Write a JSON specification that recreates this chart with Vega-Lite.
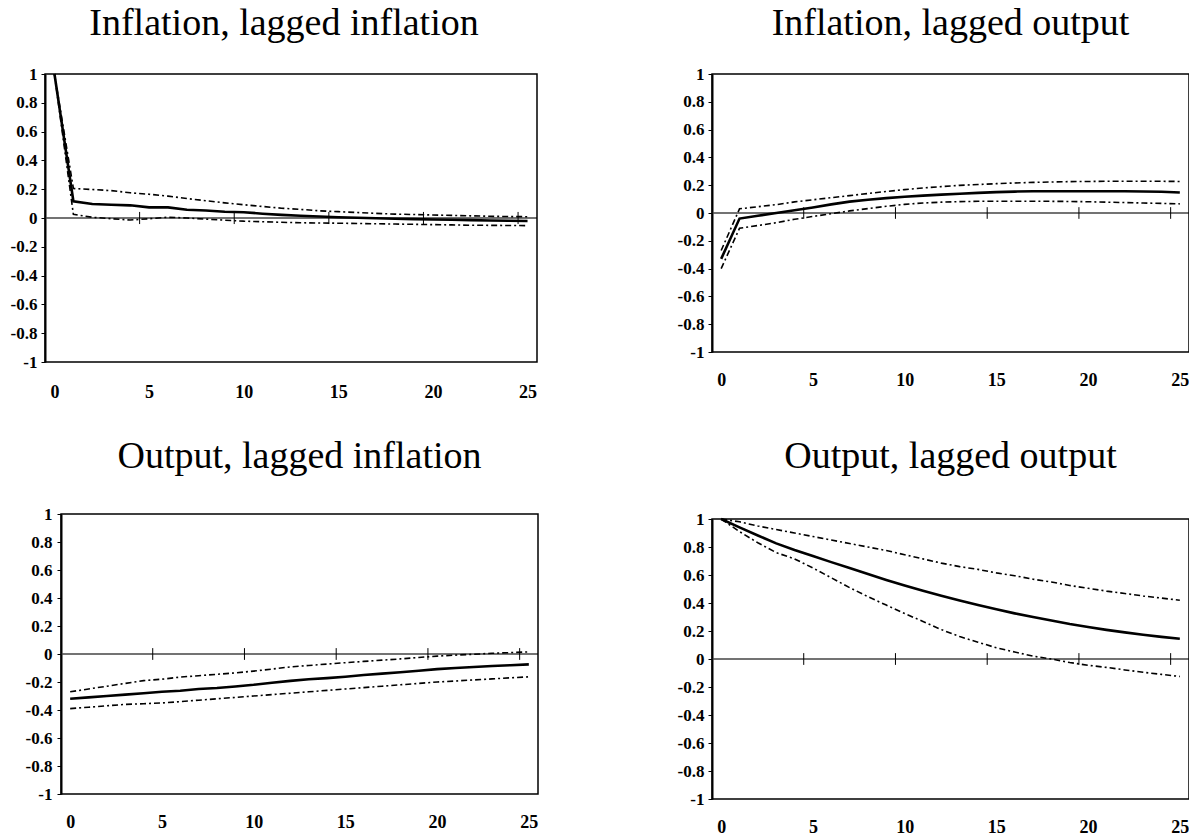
{
  "$schema": "https://vega.github.io/schema/vega-lite/v6.json",
  "background": "white",
  "padding": {"left": 0, "top": 5, "right": 0, "bottom": 0},
  "config": {
    "view": {"stroke": null},
    "axis": {"labelFont": "Liberation Serif", "labelFontWeight": "bold", "labelColor": "#000", "labelOverlap": false, "grid": false},
    "axisX": {"labelFontSize": 18},
    "axisY": {"labelFontSize": 17},
    "title": {"font": "Liberation Serif", "fontSize": 38, "fontWeight": "normal", "color": "#000", "baseline": "bottom", "anchor": "middle", "frame": "group"}
  },
  "datasets": {
    "irf": [
      {"p":1,"t":0,"m":1,"u":1,"l":1},
      {"p":1,"t":1,"m":0.116,"u":0.205,"l":0.025},
      {"p":1,"t":2,"m":0.097,"u":0.198,"l":0.005},
      {"p":1,"t":3,"m":0.092,"u":0.19,"l":-0.005},
      {"p":1,"t":4,"m":0.088,"u":0.175,"l":-0.014},
      {"p":1,"t":5,"m":0.074,"u":0.165,"l":-0.005},
      {"p":1,"t":6,"m":0.074,"u":0.152,"l":0.005},
      {"p":1,"t":7,"m":0.057,"u":0.135,"l":0.0},
      {"p":1,"t":8,"m":0.052,"u":0.12,"l":-0.008},
      {"p":1,"t":9,"m":0.043,"u":0.105,"l":-0.015},
      {"p":1,"t":10,"m":0.04,"u":0.092,"l":-0.022},
      {"p":1,"t":11,"m":0.03,"u":0.08,"l":-0.026},
      {"p":1,"t":12,"m":0.022,"u":0.068,"l":-0.03},
      {"p":1,"t":13,"m":0.016,"u":0.06,"l":-0.033},
      {"p":1,"t":14,"m":0.01,"u":0.05,"l":-0.035},
      {"p":1,"t":15,"m":0.005,"u":0.044,"l":-0.036},
      {"p":1,"t":16,"m":0.002,"u":0.038,"l":-0.038},
      {"p":1,"t":17,"m":-0.002,"u":0.032,"l":-0.04},
      {"p":1,"t":18,"m":-0.005,"u":0.027,"l":-0.042},
      {"p":1,"t":19,"m":-0.008,"u":0.024,"l":-0.044},
      {"p":1,"t":20,"m":-0.01,"u":0.021,"l":-0.046},
      {"p":1,"t":21,"m":-0.012,"u":0.018,"l":-0.048},
      {"p":1,"t":22,"m":-0.015,"u":0.015,"l":-0.05},
      {"p":1,"t":23,"m":-0.017,"u":0.012,"l":-0.051},
      {"p":1,"t":24,"m":-0.019,"u":0.01,"l":-0.052},
      {"p":1,"t":25,"m":-0.021,"u":0.009,"l":-0.053},

      {"p":2,"t":0,"m":-0.33,"u":-0.27,"l":-0.4},
      {"p":2,"t":1,"m":-0.04,"u":0.03,"l":-0.11},
      {"p":2,"t":2,"m":-0.02,"u":0.045,"l":-0.09},
      {"p":2,"t":3,"m":0.0,"u":0.06,"l":-0.07},
      {"p":2,"t":4,"m":0.02,"u":0.08,"l":-0.045},
      {"p":2,"t":5,"m":0.04,"u":0.095,"l":-0.025},
      {"p":2,"t":6,"m":0.062,"u":0.11,"l":-0.005},
      {"p":2,"t":7,"m":0.082,"u":0.125,"l":0.015},
      {"p":2,"t":8,"m":0.095,"u":0.14,"l":0.032},
      {"p":2,"t":9,"m":0.107,"u":0.155,"l":0.048},
      {"p":2,"t":10,"m":0.117,"u":0.168,"l":0.062},
      {"p":2,"t":11,"m":0.125,"u":0.18,"l":0.072},
      {"p":2,"t":12,"m":0.132,"u":0.19,"l":0.078},
      {"p":2,"t":13,"m":0.139,"u":0.199,"l":0.082},
      {"p":2,"t":14,"m":0.145,"u":0.205,"l":0.084},
      {"p":2,"t":15,"m":0.15,"u":0.211,"l":0.085},
      {"p":2,"t":16,"m":0.154,"u":0.216,"l":0.085},
      {"p":2,"t":17,"m":0.156,"u":0.22,"l":0.085},
      {"p":2,"t":18,"m":0.157,"u":0.223,"l":0.084},
      {"p":2,"t":19,"m":0.157,"u":0.226,"l":0.083},
      {"p":2,"t":20,"m":0.157,"u":0.227,"l":0.081},
      {"p":2,"t":21,"m":0.157,"u":0.228,"l":0.078},
      {"p":2,"t":22,"m":0.156,"u":0.228,"l":0.075},
      {"p":2,"t":23,"m":0.155,"u":0.228,"l":0.072},
      {"p":2,"t":24,"m":0.153,"u":0.228,"l":0.069},
      {"p":2,"t":25,"m":0.147,"u":0.227,"l":0.066},

      {"p":3,"t":0,"m":-0.32,"u":-0.27,"l":-0.39},
      {"p":3,"t":1,"m":-0.31,"u":-0.25,"l":-0.38},
      {"p":3,"t":2,"m":-0.3,"u":-0.23,"l":-0.37},
      {"p":3,"t":3,"m":-0.29,"u":-0.21,"l":-0.36},
      {"p":3,"t":4,"m":-0.28,"u":-0.19,"l":-0.355},
      {"p":3,"t":5,"m":-0.27,"u":-0.18,"l":-0.35},
      {"p":3,"t":6,"m":-0.262,"u":-0.165,"l":-0.34},
      {"p":3,"t":7,"m":-0.25,"u":-0.155,"l":-0.33},
      {"p":3,"t":8,"m":-0.243,"u":-0.145,"l":-0.32},
      {"p":3,"t":9,"m":-0.232,"u":-0.135,"l":-0.31},
      {"p":3,"t":10,"m":-0.22,"u":-0.122,"l":-0.3},
      {"p":3,"t":11,"m":-0.205,"u":-0.108,"l":-0.29},
      {"p":3,"t":12,"m":-0.192,"u":-0.092,"l":-0.28},
      {"p":3,"t":13,"m":-0.18,"u":-0.082,"l":-0.27},
      {"p":3,"t":14,"m":-0.172,"u":-0.072,"l":-0.26},
      {"p":3,"t":15,"m":-0.162,"u":-0.062,"l":-0.25},
      {"p":3,"t":16,"m":-0.15,"u":-0.053,"l":-0.24},
      {"p":3,"t":17,"m":-0.14,"u":-0.044,"l":-0.23},
      {"p":3,"t":18,"m":-0.13,"u":-0.035,"l":-0.22},
      {"p":3,"t":19,"m":-0.12,"u":-0.025,"l":-0.21},
      {"p":3,"t":20,"m":-0.108,"u":-0.015,"l":-0.2},
      {"p":3,"t":21,"m":-0.1,"u":-0.008,"l":-0.193},
      {"p":3,"t":22,"m":-0.093,"u":-0.002,"l":-0.185},
      {"p":3,"t":23,"m":-0.086,"u":0.005,"l":-0.178},
      {"p":3,"t":24,"m":-0.08,"u":0.01,"l":-0.17},
      {"p":3,"t":25,"m":-0.074,"u":0.015,"l":-0.163},

      {"p":4,"t":0,"m":1,"u":1,"l":1},
      {"p":4,"t":1,"m":0.94,"u":0.98,"l":0.91},
      {"p":4,"t":2,"m":0.882,"u":0.95,"l":0.83},
      {"p":4,"t":3,"m":0.826,"u":0.925,"l":0.76},
      {"p":4,"t":4,"m":0.778,"u":0.9,"l":0.715},
      {"p":4,"t":5,"m":0.735,"u":0.875,"l":0.65},
      {"p":4,"t":6,"m":0.692,"u":0.85,"l":0.58},
      {"p":4,"t":7,"m":0.65,"u":0.825,"l":0.51},
      {"p":4,"t":8,"m":0.607,"u":0.8,"l":0.445},
      {"p":4,"t":9,"m":0.565,"u":0.775,"l":0.385},
      {"p":4,"t":10,"m":0.525,"u":0.745,"l":0.325},
      {"p":4,"t":11,"m":0.488,"u":0.715,"l":0.268},
      {"p":4,"t":12,"m":0.452,"u":0.685,"l":0.21},
      {"p":4,"t":13,"m":0.418,"u":0.66,"l":0.16},
      {"p":4,"t":14,"m":0.385,"u":0.64,"l":0.12},
      {"p":4,"t":15,"m":0.355,"u":0.615,"l":0.08},
      {"p":4,"t":16,"m":0.326,"u":0.595,"l":0.05},
      {"p":4,"t":17,"m":0.3,"u":0.57,"l":0.02},
      {"p":4,"t":18,"m":0.275,"u":0.55,"l":0.0},
      {"p":4,"t":19,"m":0.25,"u":0.525,"l":-0.025},
      {"p":4,"t":20,"m":0.228,"u":0.505,"l":-0.045},
      {"p":4,"t":21,"m":0.208,"u":0.485,"l":-0.06},
      {"p":4,"t":22,"m":0.19,"u":0.468,"l":-0.078},
      {"p":4,"t":23,"m":0.173,"u":0.45,"l":-0.095},
      {"p":4,"t":24,"m":0.158,"u":0.435,"l":-0.11},
      {"p":4,"t":25,"m":0.145,"u":0.42,"l":-0.125}
    ],
    "ticks": [
      {"t":4.5,"lo":-0.042,"hi":0.042},
      {"t":9.5,"lo":-0.042,"hi":0.042},
      {"t":14.5,"lo":-0.042,"hi":0.042},
      {"t":19.5,"lo":-0.042,"hi":0.042},
      {"t":24.5,"lo":-0.042,"hi":0.042}
    ],
    "one": [{"z":0,"x0":-0.5,"x1":25.5,"y0":-1,"y1":1}]
  },
  "columns": 2,
  "align": "each",
  "spacing": {"row": 37, "column": 123},
  "concat": [
    {
      "title": {"text": "Inflation, lagged inflation", "offset": 22, "dx": -7, "frame": "group"},
      "width": 492, "height": 288,
      "layer": [
        {"data": {"name": "one"}, "mark": {"type": "rule", "color": "#444", "strokeWidth": 1.5},
         "encoding": {"x": {"field": "x0", "type": "quantitative", "scale": {"domain": [-0.5, 25.5], "nice": false, "zero": false}, "axis": {"values": [0,5,10,15,20,25], "labelExpr": "'' + datum.value", "title": null, "grid": false, "ticks": false, "tickSize": 0, "domain": false, "labelFont": "Liberation Serif", "labelFontWeight": "bold", "labelFontSize": 18, "labelColor": "#000", "labelPadding": 21, "labelFlush": false, "labelOverlap": false}}, "x2": {"field": "x1"},
                      "y": {"field": "z", "type": "quantitative", "scale": {"domain": [-1, 1], "nice": false}, "axis": {"values": [-1,-0.8,-0.6,-0.4,-0.2,0,0.2,0.4,0.6,0.8,1], "labelExpr": "'' + datum.value", "title": null, "grid": false, "tickSize": 4, "tickColor": "#000", "tickWidth": 1, "domainColor": "#000", "domainWidth": 2, "labelFont": "Liberation Serif", "labelFontWeight": "bold", "labelFontSize": 17, "labelColor": "#000", "labelPadding": 4, "labelOverlap": false, "minExtent": 45, "maxExtent": 45}}}},
        {"data": {"name": "one"}, "mark": {"type": "rect", "filled": false, "color": "#000", "strokeWidth": 1.5},
         "encoding": {"x": {"field": "x0", "type": "quantitative", "scale": {"domain": [-0.5, 25.5], "nice": false, "zero": false}, "axis": {"values": [0,5,10,15,20,25], "labelExpr": "'' + datum.value", "title": null, "grid": false, "ticks": false, "tickSize": 0, "domain": false, "labelFont": "Liberation Serif", "labelFontWeight": "bold", "labelFontSize": 18, "labelColor": "#000", "labelPadding": 21, "labelFlush": false, "labelOverlap": false}}, "x2": {"field": "x1"},
                      "y": {"field": "y0", "type": "quantitative", "scale": {"domain": [-1, 1], "nice": false}, "axis": {"values": [-1,-0.8,-0.6,-0.4,-0.2,0,0.2,0.4,0.6,0.8,1], "labelExpr": "'' + datum.value", "title": null, "grid": false, "tickSize": 4, "tickColor": "#000", "tickWidth": 1, "domainColor": "#000", "domainWidth": 2, "labelFont": "Liberation Serif", "labelFontWeight": "bold", "labelFontSize": 17, "labelColor": "#000", "labelPadding": 4, "labelOverlap": false, "minExtent": 45, "maxExtent": 45}}, "y2": {"field": "y1"}}},
        {"data": {"name": "ticks"}, "mark": {"type": "rule", "color": "#000", "strokeWidth": 1},
         "encoding": {"x": {"field": "t", "type": "quantitative", "scale": {"domain": [-0.5, 25.5], "nice": false, "zero": false}, "axis": {"values": [0,5,10,15,20,25], "labelExpr": "'' + datum.value", "title": null, "grid": false, "ticks": false, "tickSize": 0, "domain": false, "labelFont": "Liberation Serif", "labelFontWeight": "bold", "labelFontSize": 18, "labelColor": "#000", "labelPadding": 21, "labelFlush": false, "labelOverlap": false}},
                      "y": {"field": "lo", "type": "quantitative", "scale": {"domain": [-1, 1], "nice": false}, "axis": {"values": [-1,-0.8,-0.6,-0.4,-0.2,0,0.2,0.4,0.6,0.8,1], "labelExpr": "'' + datum.value", "title": null, "grid": false, "tickSize": 4, "tickColor": "#000", "tickWidth": 1, "domainColor": "#000", "domainWidth": 2, "labelFont": "Liberation Serif", "labelFontWeight": "bold", "labelFontSize": 17, "labelColor": "#000", "labelPadding": 4, "labelOverlap": false, "minExtent": 45, "maxExtent": 45}}, "y2": {"field": "hi"}}},
        {"data": {"name": "irf"}, "transform": [{"filter": "datum.p == 1"}], "mark": {"type": "line", "color": "#000", "strokeWidth": 1.6, "strokeDash": [6, 3, 2, 3]},
         "encoding": {"x": {"field": "t", "type": "quantitative", "scale": {"domain": [-0.5, 25.5], "nice": false, "zero": false}, "axis": {"values": [0,5,10,15,20,25], "labelExpr": "'' + datum.value", "title": null, "grid": false, "ticks": false, "tickSize": 0, "domain": false, "labelFont": "Liberation Serif", "labelFontWeight": "bold", "labelFontSize": 18, "labelColor": "#000", "labelPadding": 21, "labelFlush": false, "labelOverlap": false}},
                      "y": {"field": "u", "type": "quantitative", "scale": {"domain": [-1, 1], "nice": false}, "axis": {"values": [-1,-0.8,-0.6,-0.4,-0.2,0,0.2,0.4,0.6,0.8,1], "labelExpr": "'' + datum.value", "title": null, "grid": false, "tickSize": 4, "tickColor": "#000", "tickWidth": 1, "domainColor": "#000", "domainWidth": 2, "labelFont": "Liberation Serif", "labelFontWeight": "bold", "labelFontSize": 17, "labelColor": "#000", "labelPadding": 4, "labelOverlap": false, "minExtent": 45, "maxExtent": 45}}}},
        {"data": {"name": "irf"}, "transform": [{"filter": "datum.p == 1"}], "mark": {"type": "line", "color": "#000", "strokeWidth": 1.6, "strokeDash": [6, 3, 2, 3]},
         "encoding": {"x": {"field": "t", "type": "quantitative", "scale": {"domain": [-0.5, 25.5], "nice": false, "zero": false}, "axis": {"values": [0,5,10,15,20,25], "labelExpr": "'' + datum.value", "title": null, "grid": false, "ticks": false, "tickSize": 0, "domain": false, "labelFont": "Liberation Serif", "labelFontWeight": "bold", "labelFontSize": 18, "labelColor": "#000", "labelPadding": 21, "labelFlush": false, "labelOverlap": false}},
                      "y": {"field": "l", "type": "quantitative", "scale": {"domain": [-1, 1], "nice": false}, "axis": {"values": [-1,-0.8,-0.6,-0.4,-0.2,0,0.2,0.4,0.6,0.8,1], "labelExpr": "'' + datum.value", "title": null, "grid": false, "tickSize": 4, "tickColor": "#000", "tickWidth": 1, "domainColor": "#000", "domainWidth": 2, "labelFont": "Liberation Serif", "labelFontWeight": "bold", "labelFontSize": 17, "labelColor": "#000", "labelPadding": 4, "labelOverlap": false, "minExtent": 45, "maxExtent": 45}}}},
        {"data": {"name": "irf"}, "transform": [{"filter": "datum.p == 1"}], "mark": {"type": "line", "color": "#000", "strokeWidth": 2.6},
         "encoding": {"x": {"field": "t", "type": "quantitative", "scale": {"domain": [-0.5, 25.5], "nice": false, "zero": false}, "axis": {"values": [0,5,10,15,20,25], "labelExpr": "'' + datum.value", "title": null, "grid": false, "ticks": false, "tickSize": 0, "domain": false, "labelFont": "Liberation Serif", "labelFontWeight": "bold", "labelFontSize": 18, "labelColor": "#000", "labelPadding": 21, "labelFlush": false, "labelOverlap": false}},
                      "y": {"field": "m", "type": "quantitative", "scale": {"domain": [-1, 1], "nice": false}, "axis": {"values": [-1,-0.8,-0.6,-0.4,-0.2,0,0.2,0.4,0.6,0.8,1], "labelExpr": "'' + datum.value", "title": null, "grid": false, "tickSize": 4, "tickColor": "#000", "tickWidth": 1, "domainColor": "#000", "domainWidth": 2, "labelFont": "Liberation Serif", "labelFontWeight": "bold", "labelFontSize": 17, "labelColor": "#000", "labelPadding": 4, "labelOverlap": false, "minExtent": 45, "maxExtent": 45}}}}
      ]
    },
    {
      "title": {"text": "Inflation, lagged output", "offset": 22, "frame": "group"},
      "width": 477, "height": 278,
      "layer": [
        {"data": {"name": "one"}, "mark": {"type": "rule", "color": "#444", "strokeWidth": 1.5},
         "encoding": {"x": {"field": "x0", "type": "quantitative", "scale": {"domain": [-0.5, 25.5], "nice": false, "zero": false}, "axis": {"values": [0,5,10,15,20,25], "labelExpr": "'' + datum.value", "title": null, "grid": false, "ticks": false, "tickSize": 0, "domain": false, "labelFont": "Liberation Serif", "labelFontWeight": "bold", "labelFontSize": 18, "labelColor": "#000", "labelPadding": 19, "labelFlush": false, "labelOverlap": false}}, "x2": {"field": "x1"},
                      "y": {"field": "z", "type": "quantitative", "scale": {"domain": [-1, 1], "nice": false}, "axis": {"values": [-1,-0.8,-0.6,-0.4,-0.2,0,0.2,0.4,0.6,0.8,1], "labelExpr": "'' + datum.value", "title": null, "grid": false, "tickSize": 4, "tickColor": "#000", "tickWidth": 1, "domainColor": "#000", "domainWidth": 2, "labelFont": "Liberation Serif", "labelFontWeight": "bold", "labelFontSize": 17, "labelColor": "#000", "labelPadding": 4, "labelOverlap": false, "minExtent": 50, "maxExtent": 50}}}},
        {"data": {"name": "one"}, "mark": {"type": "rect", "filled": false, "color": "#000", "strokeWidth": 1.5},
         "encoding": {"x": {"field": "x0", "type": "quantitative", "scale": {"domain": [-0.5, 25.5], "nice": false, "zero": false}, "axis": {"values": [0,5,10,15,20,25], "labelExpr": "'' + datum.value", "title": null, "grid": false, "ticks": false, "tickSize": 0, "domain": false, "labelFont": "Liberation Serif", "labelFontWeight": "bold", "labelFontSize": 18, "labelColor": "#000", "labelPadding": 19, "labelFlush": false, "labelOverlap": false}}, "x2": {"field": "x1"},
                      "y": {"field": "y0", "type": "quantitative", "scale": {"domain": [-1, 1], "nice": false}, "axis": {"values": [-1,-0.8,-0.6,-0.4,-0.2,0,0.2,0.4,0.6,0.8,1], "labelExpr": "'' + datum.value", "title": null, "grid": false, "tickSize": 4, "tickColor": "#000", "tickWidth": 1, "domainColor": "#000", "domainWidth": 2, "labelFont": "Liberation Serif", "labelFontWeight": "bold", "labelFontSize": 17, "labelColor": "#000", "labelPadding": 4, "labelOverlap": false, "minExtent": 50, "maxExtent": 50}}, "y2": {"field": "y1"}}},
        {"data": {"name": "ticks"}, "mark": {"type": "rule", "color": "#000", "strokeWidth": 1},
         "encoding": {"x": {"field": "t", "type": "quantitative", "scale": {"domain": [-0.5, 25.5], "nice": false, "zero": false}, "axis": {"values": [0,5,10,15,20,25], "labelExpr": "'' + datum.value", "title": null, "grid": false, "ticks": false, "tickSize": 0, "domain": false, "labelFont": "Liberation Serif", "labelFontWeight": "bold", "labelFontSize": 18, "labelColor": "#000", "labelPadding": 19, "labelFlush": false, "labelOverlap": false}},
                      "y": {"field": "lo", "type": "quantitative", "scale": {"domain": [-1, 1], "nice": false}, "axis": {"values": [-1,-0.8,-0.6,-0.4,-0.2,0,0.2,0.4,0.6,0.8,1], "labelExpr": "'' + datum.value", "title": null, "grid": false, "tickSize": 4, "tickColor": "#000", "tickWidth": 1, "domainColor": "#000", "domainWidth": 2, "labelFont": "Liberation Serif", "labelFontWeight": "bold", "labelFontSize": 17, "labelColor": "#000", "labelPadding": 4, "labelOverlap": false, "minExtent": 50, "maxExtent": 50}}, "y2": {"field": "hi"}}},
        {"data": {"name": "irf"}, "transform": [{"filter": "datum.p == 2"}], "mark": {"type": "line", "color": "#000", "strokeWidth": 1.6, "strokeDash": [6, 3, 2, 3]},
         "encoding": {"x": {"field": "t", "type": "quantitative", "scale": {"domain": [-0.5, 25.5], "nice": false, "zero": false}, "axis": {"values": [0,5,10,15,20,25], "labelExpr": "'' + datum.value", "title": null, "grid": false, "ticks": false, "tickSize": 0, "domain": false, "labelFont": "Liberation Serif", "labelFontWeight": "bold", "labelFontSize": 18, "labelColor": "#000", "labelPadding": 19, "labelFlush": false, "labelOverlap": false}},
                      "y": {"field": "u", "type": "quantitative", "scale": {"domain": [-1, 1], "nice": false}, "axis": {"values": [-1,-0.8,-0.6,-0.4,-0.2,0,0.2,0.4,0.6,0.8,1], "labelExpr": "'' + datum.value", "title": null, "grid": false, "tickSize": 4, "tickColor": "#000", "tickWidth": 1, "domainColor": "#000", "domainWidth": 2, "labelFont": "Liberation Serif", "labelFontWeight": "bold", "labelFontSize": 17, "labelColor": "#000", "labelPadding": 4, "labelOverlap": false, "minExtent": 50, "maxExtent": 50}}}},
        {"data": {"name": "irf"}, "transform": [{"filter": "datum.p == 2"}], "mark": {"type": "line", "color": "#000", "strokeWidth": 1.6, "strokeDash": [6, 3, 2, 3]},
         "encoding": {"x": {"field": "t", "type": "quantitative", "scale": {"domain": [-0.5, 25.5], "nice": false, "zero": false}, "axis": {"values": [0,5,10,15,20,25], "labelExpr": "'' + datum.value", "title": null, "grid": false, "ticks": false, "tickSize": 0, "domain": false, "labelFont": "Liberation Serif", "labelFontWeight": "bold", "labelFontSize": 18, "labelColor": "#000", "labelPadding": 19, "labelFlush": false, "labelOverlap": false}},
                      "y": {"field": "l", "type": "quantitative", "scale": {"domain": [-1, 1], "nice": false}, "axis": {"values": [-1,-0.8,-0.6,-0.4,-0.2,0,0.2,0.4,0.6,0.8,1], "labelExpr": "'' + datum.value", "title": null, "grid": false, "tickSize": 4, "tickColor": "#000", "tickWidth": 1, "domainColor": "#000", "domainWidth": 2, "labelFont": "Liberation Serif", "labelFontWeight": "bold", "labelFontSize": 17, "labelColor": "#000", "labelPadding": 4, "labelOverlap": false, "minExtent": 50, "maxExtent": 50}}}},
        {"data": {"name": "irf"}, "transform": [{"filter": "datum.p == 2"}], "mark": {"type": "line", "color": "#000", "strokeWidth": 2.6},
         "encoding": {"x": {"field": "t", "type": "quantitative", "scale": {"domain": [-0.5, 25.5], "nice": false, "zero": false}, "axis": {"values": [0,5,10,15,20,25], "labelExpr": "'' + datum.value", "title": null, "grid": false, "ticks": false, "tickSize": 0, "domain": false, "labelFont": "Liberation Serif", "labelFontWeight": "bold", "labelFontSize": 18, "labelColor": "#000", "labelPadding": 19, "labelFlush": false, "labelOverlap": false}},
                      "y": {"field": "m", "type": "quantitative", "scale": {"domain": [-1, 1], "nice": false}, "axis": {"values": [-1,-0.8,-0.6,-0.4,-0.2,0,0.2,0.4,0.6,0.8,1], "labelExpr": "'' + datum.value", "title": null, "grid": false, "tickSize": 4, "tickColor": "#000", "tickWidth": 1, "domainColor": "#000", "domainWidth": 2, "labelFont": "Liberation Serif", "labelFontWeight": "bold", "labelFontSize": 17, "labelColor": "#000", "labelPadding": 4, "labelOverlap": false, "minExtent": 50, "maxExtent": 50}}}}
      ]
    },
    {
      "title": {"text": "Output, lagged inflation", "offset": 29, "dx": 8, "frame": "group"},
      "width": 493, "height": 280,
      "layer": [
        {"data": {"name": "one"}, "mark": {"type": "rule", "color": "#444", "strokeWidth": 1.5},
         "encoding": {"x": {"field": "x0", "type": "quantitative", "scale": {"domain": [-0.5, 25.5], "nice": false, "zero": false, "range": [16, 493]}, "axis": {"values": [0,5,10,15,20,25], "labelExpr": "'' + datum.value", "title": null, "grid": false, "ticks": false, "tickSize": 0, "domain": false, "labelFont": "Liberation Serif", "labelFontWeight": "bold", "labelFontSize": 18, "labelColor": "#000", "labelPadding": 19, "labelFlush": false, "labelOverlap": false}}, "x2": {"field": "x1"},
                      "y": {"field": "z", "type": "quantitative", "scale": {"domain": [-1, 1], "nice": false}, "axis": {"values": [-1,-0.8,-0.6,-0.4,-0.2,0,0.2,0.4,0.6,0.8,1], "labelExpr": "'' + datum.value", "title": null, "grid": false, "offset": -16, "tickSize": 4, "tickColor": "#000", "tickWidth": 1, "domainColor": "#000", "domainWidth": 2, "labelFont": "Liberation Serif", "labelFontWeight": "bold", "labelFontSize": 17, "labelColor": "#000", "labelPadding": 5, "labelOverlap": false, "minExtent": 61, "maxExtent": 61}}}},
        {"data": {"name": "one"}, "mark": {"type": "rect", "filled": false, "color": "#000", "strokeWidth": 1.5},
         "encoding": {"x": {"field": "x0", "type": "quantitative", "scale": {"domain": [-0.5, 25.5], "nice": false, "zero": false, "range": [16, 493]}, "axis": {"values": [0,5,10,15,20,25], "labelExpr": "'' + datum.value", "title": null, "grid": false, "ticks": false, "tickSize": 0, "domain": false, "labelFont": "Liberation Serif", "labelFontWeight": "bold", "labelFontSize": 18, "labelColor": "#000", "labelPadding": 19, "labelFlush": false, "labelOverlap": false}}, "x2": {"field": "x1"},
                      "y": {"field": "y0", "type": "quantitative", "scale": {"domain": [-1, 1], "nice": false}, "axis": {"values": [-1,-0.8,-0.6,-0.4,-0.2,0,0.2,0.4,0.6,0.8,1], "labelExpr": "'' + datum.value", "title": null, "grid": false, "offset": -16, "tickSize": 4, "tickColor": "#000", "tickWidth": 1, "domainColor": "#000", "domainWidth": 2, "labelFont": "Liberation Serif", "labelFontWeight": "bold", "labelFontSize": 17, "labelColor": "#000", "labelPadding": 5, "labelOverlap": false, "minExtent": 61, "maxExtent": 61}}, "y2": {"field": "y1"}}},
        {"data": {"name": "ticks"}, "mark": {"type": "rule", "color": "#000", "strokeWidth": 1},
         "encoding": {"x": {"field": "t", "type": "quantitative", "scale": {"domain": [-0.5, 25.5], "nice": false, "zero": false, "range": [16, 493]}, "axis": {"values": [0,5,10,15,20,25], "labelExpr": "'' + datum.value", "title": null, "grid": false, "ticks": false, "tickSize": 0, "domain": false, "labelFont": "Liberation Serif", "labelFontWeight": "bold", "labelFontSize": 18, "labelColor": "#000", "labelPadding": 19, "labelFlush": false, "labelOverlap": false}},
                      "y": {"field": "lo", "type": "quantitative", "scale": {"domain": [-1, 1], "nice": false}, "axis": {"values": [-1,-0.8,-0.6,-0.4,-0.2,0,0.2,0.4,0.6,0.8,1], "labelExpr": "'' + datum.value", "title": null, "grid": false, "offset": -16, "tickSize": 4, "tickColor": "#000", "tickWidth": 1, "domainColor": "#000", "domainWidth": 2, "labelFont": "Liberation Serif", "labelFontWeight": "bold", "labelFontSize": 17, "labelColor": "#000", "labelPadding": 5, "labelOverlap": false, "minExtent": 61, "maxExtent": 61}}, "y2": {"field": "hi"}}},
        {"data": {"name": "irf"}, "transform": [{"filter": "datum.p == 3"}], "mark": {"type": "line", "color": "#000", "strokeWidth": 1.6, "strokeDash": [6, 3, 2, 3]},
         "encoding": {"x": {"field": "t", "type": "quantitative", "scale": {"domain": [-0.5, 25.5], "nice": false, "zero": false, "range": [16, 493]}, "axis": {"values": [0,5,10,15,20,25], "labelExpr": "'' + datum.value", "title": null, "grid": false, "ticks": false, "tickSize": 0, "domain": false, "labelFont": "Liberation Serif", "labelFontWeight": "bold", "labelFontSize": 18, "labelColor": "#000", "labelPadding": 19, "labelFlush": false, "labelOverlap": false}},
                      "y": {"field": "u", "type": "quantitative", "scale": {"domain": [-1, 1], "nice": false}, "axis": {"values": [-1,-0.8,-0.6,-0.4,-0.2,0,0.2,0.4,0.6,0.8,1], "labelExpr": "'' + datum.value", "title": null, "grid": false, "offset": -16, "tickSize": 4, "tickColor": "#000", "tickWidth": 1, "domainColor": "#000", "domainWidth": 2, "labelFont": "Liberation Serif", "labelFontWeight": "bold", "labelFontSize": 17, "labelColor": "#000", "labelPadding": 5, "labelOverlap": false, "minExtent": 61, "maxExtent": 61}}}},
        {"data": {"name": "irf"}, "transform": [{"filter": "datum.p == 3"}], "mark": {"type": "line", "color": "#000", "strokeWidth": 1.6, "strokeDash": [6, 3, 2, 3]},
         "encoding": {"x": {"field": "t", "type": "quantitative", "scale": {"domain": [-0.5, 25.5], "nice": false, "zero": false, "range": [16, 493]}, "axis": {"values": [0,5,10,15,20,25], "labelExpr": "'' + datum.value", "title": null, "grid": false, "ticks": false, "tickSize": 0, "domain": false, "labelFont": "Liberation Serif", "labelFontWeight": "bold", "labelFontSize": 18, "labelColor": "#000", "labelPadding": 19, "labelFlush": false, "labelOverlap": false}},
                      "y": {"field": "l", "type": "quantitative", "scale": {"domain": [-1, 1], "nice": false}, "axis": {"values": [-1,-0.8,-0.6,-0.4,-0.2,0,0.2,0.4,0.6,0.8,1], "labelExpr": "'' + datum.value", "title": null, "grid": false, "offset": -16, "tickSize": 4, "tickColor": "#000", "tickWidth": 1, "domainColor": "#000", "domainWidth": 2, "labelFont": "Liberation Serif", "labelFontWeight": "bold", "labelFontSize": 17, "labelColor": "#000", "labelPadding": 5, "labelOverlap": false, "minExtent": 61, "maxExtent": 61}}}},
        {"data": {"name": "irf"}, "transform": [{"filter": "datum.p == 3"}], "mark": {"type": "line", "color": "#000", "strokeWidth": 2.6},
         "encoding": {"x": {"field": "t", "type": "quantitative", "scale": {"domain": [-0.5, 25.5], "nice": false, "zero": false, "range": [16, 493]}, "axis": {"values": [0,5,10,15,20,25], "labelExpr": "'' + datum.value", "title": null, "grid": false, "ticks": false, "tickSize": 0, "domain": false, "labelFont": "Liberation Serif", "labelFontWeight": "bold", "labelFontSize": 18, "labelColor": "#000", "labelPadding": 19, "labelFlush": false, "labelOverlap": false}},
                      "y": {"field": "m", "type": "quantitative", "scale": {"domain": [-1, 1], "nice": false}, "axis": {"values": [-1,-0.8,-0.6,-0.4,-0.2,0,0.2,0.4,0.6,0.8,1], "labelExpr": "'' + datum.value", "title": null, "grid": false, "offset": -16, "tickSize": 4, "tickColor": "#000", "tickWidth": 1, "domainColor": "#000", "domainWidth": 2, "labelFont": "Liberation Serif", "labelFontWeight": "bold", "labelFontSize": 17, "labelColor": "#000", "labelPadding": 5, "labelOverlap": false, "minExtent": 61, "maxExtent": 61}}}}
      ]
    },
    {
      "title": {"text": "Output, lagged output", "offset": 34, "frame": "group"},
      "width": 477, "height": 285,
      "layer": [
        {"data": {"name": "one"}, "mark": {"type": "rule", "color": "#444", "strokeWidth": 1.5},
         "encoding": {"x": {"field": "x0", "type": "quantitative", "scale": {"domain": [-0.5, 25.5], "nice": false, "zero": false}, "axis": {"values": [0,5,10,15,20,25], "labelExpr": "'' + datum.value", "title": null, "grid": false, "ticks": false, "tickSize": 0, "domain": false, "labelFont": "Liberation Serif", "labelFontWeight": "bold", "labelFontSize": 18, "labelColor": "#000", "labelPadding": 19, "labelFlush": false, "labelOverlap": false}}, "x2": {"field": "x1"},
                      "y": {"field": "z", "type": "quantitative", "scale": {"domain": [-1, 1], "nice": false, "range": [285, 5]}, "axis": {"values": [-1,-0.8,-0.6,-0.4,-0.2,0,0.2,0.4,0.6,0.8,1], "labelExpr": "'' + datum.value", "title": null, "grid": false, "tickSize": 4, "tickColor": "#000", "tickWidth": 1, "domainColor": "#000", "domainWidth": 2, "labelFont": "Liberation Serif", "labelFontWeight": "bold", "labelFontSize": 17, "labelColor": "#000", "labelPadding": 4, "labelOverlap": false, "minExtent": 50, "maxExtent": 50}}}},
        {"data": {"name": "one"}, "mark": {"type": "rect", "filled": false, "color": "#000", "strokeWidth": 1.5},
         "encoding": {"x": {"field": "x0", "type": "quantitative", "scale": {"domain": [-0.5, 25.5], "nice": false, "zero": false}, "axis": {"values": [0,5,10,15,20,25], "labelExpr": "'' + datum.value", "title": null, "grid": false, "ticks": false, "tickSize": 0, "domain": false, "labelFont": "Liberation Serif", "labelFontWeight": "bold", "labelFontSize": 18, "labelColor": "#000", "labelPadding": 19, "labelFlush": false, "labelOverlap": false}}, "x2": {"field": "x1"},
                      "y": {"field": "y0", "type": "quantitative", "scale": {"domain": [-1, 1], "nice": false, "range": [285, 5]}, "axis": {"values": [-1,-0.8,-0.6,-0.4,-0.2,0,0.2,0.4,0.6,0.8,1], "labelExpr": "'' + datum.value", "title": null, "grid": false, "tickSize": 4, "tickColor": "#000", "tickWidth": 1, "domainColor": "#000", "domainWidth": 2, "labelFont": "Liberation Serif", "labelFontWeight": "bold", "labelFontSize": 17, "labelColor": "#000", "labelPadding": 4, "labelOverlap": false, "minExtent": 50, "maxExtent": 50}}, "y2": {"field": "y1"}}},
        {"data": {"name": "ticks"}, "mark": {"type": "rule", "color": "#000", "strokeWidth": 1},
         "encoding": {"x": {"field": "t", "type": "quantitative", "scale": {"domain": [-0.5, 25.5], "nice": false, "zero": false}, "axis": {"values": [0,5,10,15,20,25], "labelExpr": "'' + datum.value", "title": null, "grid": false, "ticks": false, "tickSize": 0, "domain": false, "labelFont": "Liberation Serif", "labelFontWeight": "bold", "labelFontSize": 18, "labelColor": "#000", "labelPadding": 19, "labelFlush": false, "labelOverlap": false}},
                      "y": {"field": "lo", "type": "quantitative", "scale": {"domain": [-1, 1], "nice": false, "range": [285, 5]}, "axis": {"values": [-1,-0.8,-0.6,-0.4,-0.2,0,0.2,0.4,0.6,0.8,1], "labelExpr": "'' + datum.value", "title": null, "grid": false, "tickSize": 4, "tickColor": "#000", "tickWidth": 1, "domainColor": "#000", "domainWidth": 2, "labelFont": "Liberation Serif", "labelFontWeight": "bold", "labelFontSize": 17, "labelColor": "#000", "labelPadding": 4, "labelOverlap": false, "minExtent": 50, "maxExtent": 50}}, "y2": {"field": "hi"}}},
        {"data": {"name": "irf"}, "transform": [{"filter": "datum.p == 4"}], "mark": {"type": "line", "color": "#000", "strokeWidth": 1.6, "strokeDash": [6, 3, 2, 3]},
         "encoding": {"x": {"field": "t", "type": "quantitative", "scale": {"domain": [-0.5, 25.5], "nice": false, "zero": false}, "axis": {"values": [0,5,10,15,20,25], "labelExpr": "'' + datum.value", "title": null, "grid": false, "ticks": false, "tickSize": 0, "domain": false, "labelFont": "Liberation Serif", "labelFontWeight": "bold", "labelFontSize": 18, "labelColor": "#000", "labelPadding": 19, "labelFlush": false, "labelOverlap": false}},
                      "y": {"field": "u", "type": "quantitative", "scale": {"domain": [-1, 1], "nice": false, "range": [285, 5]}, "axis": {"values": [-1,-0.8,-0.6,-0.4,-0.2,0,0.2,0.4,0.6,0.8,1], "labelExpr": "'' + datum.value", "title": null, "grid": false, "tickSize": 4, "tickColor": "#000", "tickWidth": 1, "domainColor": "#000", "domainWidth": 2, "labelFont": "Liberation Serif", "labelFontWeight": "bold", "labelFontSize": 17, "labelColor": "#000", "labelPadding": 4, "labelOverlap": false, "minExtent": 50, "maxExtent": 50}}}},
        {"data": {"name": "irf"}, "transform": [{"filter": "datum.p == 4"}], "mark": {"type": "line", "color": "#000", "strokeWidth": 1.6, "strokeDash": [6, 3, 2, 3]},
         "encoding": {"x": {"field": "t", "type": "quantitative", "scale": {"domain": [-0.5, 25.5], "nice": false, "zero": false}, "axis": {"values": [0,5,10,15,20,25], "labelExpr": "'' + datum.value", "title": null, "grid": false, "ticks": false, "tickSize": 0, "domain": false, "labelFont": "Liberation Serif", "labelFontWeight": "bold", "labelFontSize": 18, "labelColor": "#000", "labelPadding": 19, "labelFlush": false, "labelOverlap": false}},
                      "y": {"field": "l", "type": "quantitative", "scale": {"domain": [-1, 1], "nice": false, "range": [285, 5]}, "axis": {"values": [-1,-0.8,-0.6,-0.4,-0.2,0,0.2,0.4,0.6,0.8,1], "labelExpr": "'' + datum.value", "title": null, "grid": false, "tickSize": 4, "tickColor": "#000", "tickWidth": 1, "domainColor": "#000", "domainWidth": 2, "labelFont": "Liberation Serif", "labelFontWeight": "bold", "labelFontSize": 17, "labelColor": "#000", "labelPadding": 4, "labelOverlap": false, "minExtent": 50, "maxExtent": 50}}}},
        {"data": {"name": "irf"}, "transform": [{"filter": "datum.p == 4"}], "mark": {"type": "line", "color": "#000", "strokeWidth": 2.6},
         "encoding": {"x": {"field": "t", "type": "quantitative", "scale": {"domain": [-0.5, 25.5], "nice": false, "zero": false}, "axis": {"values": [0,5,10,15,20,25], "labelExpr": "'' + datum.value", "title": null, "grid": false, "ticks": false, "tickSize": 0, "domain": false, "labelFont": "Liberation Serif", "labelFontWeight": "bold", "labelFontSize": 18, "labelColor": "#000", "labelPadding": 19, "labelFlush": false, "labelOverlap": false}},
                      "y": {"field": "m", "type": "quantitative", "scale": {"domain": [-1, 1], "nice": false, "range": [285, 5]}, "axis": {"values": [-1,-0.8,-0.6,-0.4,-0.2,0,0.2,0.4,0.6,0.8,1], "labelExpr": "'' + datum.value", "title": null, "grid": false, "tickSize": 4, "tickColor": "#000", "tickWidth": 1, "domainColor": "#000", "domainWidth": 2, "labelFont": "Liberation Serif", "labelFontWeight": "bold", "labelFontSize": 17, "labelColor": "#000", "labelPadding": 4, "labelOverlap": false, "minExtent": 50, "maxExtent": 50}}}}
      ]
    }
  ]
}
